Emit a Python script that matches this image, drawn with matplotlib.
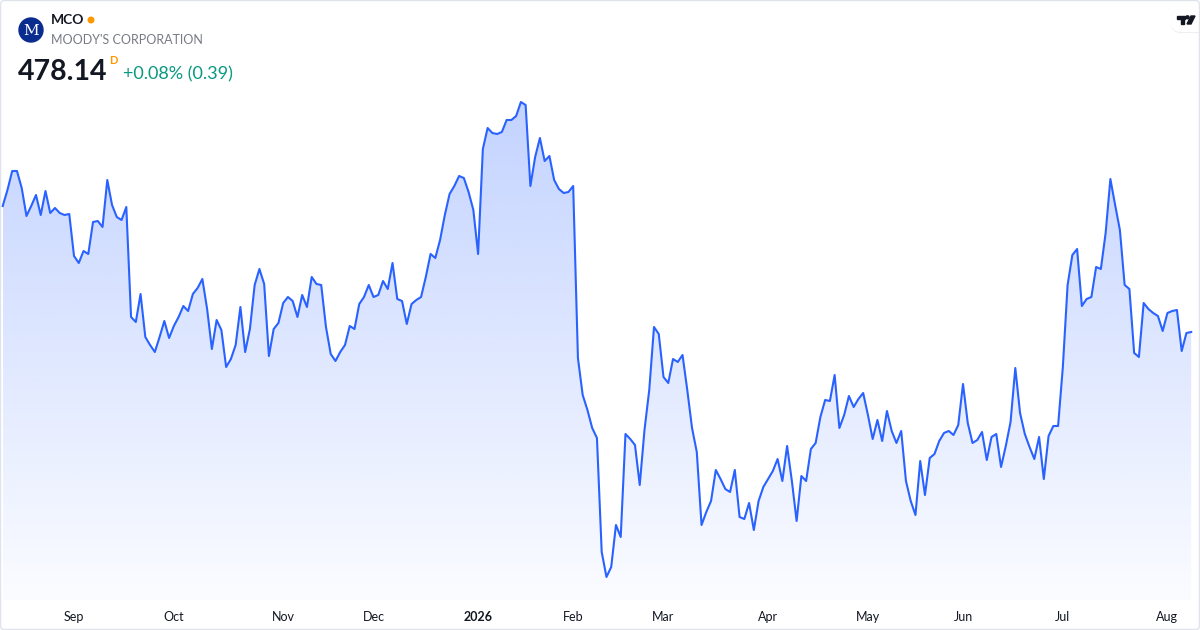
import numpy as np
import pandas as pd
import matplotlib
matplotlib.use("Agg")
import matplotlib.pyplot as plt
from matplotlib.patches import FancyBboxPatch, Circle, Polygon

# daily closes, MCO (Aug 11 2025 onward, trading days)
prices = [
    509.64, 513.64, 518.39, 518.39, 514.14, 507.14, 509.64, 512.39, 507.39, 513.39,
    507.89, 509.14, 507.89, 507.39, 507.64, 497.14, 495.39, 498.39, 497.64, 505.64,
    505.89, 504.39, 516.14, 509.89, 506.89, 506.14, 509.39, 481.89, 480.64, 487.64,
    476.89, 474.89, 473.14, 476.89, 480.89, 476.64, 479.64, 481.89, 484.64, 483.39,
    487.64, 489.14, 491.39, 483.89, 473.89, 481.14, 478.64, 469.39, 471.39, 474.89,
    484.39, 473.14, 478.89, 489.89, 493.89, 490.14, 472.14, 478.89, 480.39, 485.39,
    486.89, 485.89, 481.89, 487.39, 484.39, 491.89, 490.14, 489.89, 479.39, 472.64,
    470.89, 473.14, 474.89, 479.64, 478.89, 485.14, 486.89, 489.89, 486.89, 487.39,
    490.89, 488.89, 495.39, 486.39, 485.89, 480.14, 485.14, 486.14, 486.89, 491.89,
    497.64, 496.64, 501.14, 507.39, 512.64, 514.64, 517.14, 516.64, 513.14, 508.64,
    497.64, 523.89, 529.14, 527.89, 527.64, 528.14, 531.14, 531.14, 532.14, 535.64,
    534.89, 514.64, 521.89, 526.64, 520.89, 522.14, 516.14, 513.89, 512.89, 513.14,
    514.64, 471.64, 462.39, 458.64, 454.14, 451.64, 423.14, 416.89, 419.39, 429.89,
    426.89, 452.64, 451.39, 449.89, 439.89, 453.64, 463.64, 479.39, 477.64, 466.89,
    465.39, 471.39, 470.64, 472.39, 463.64, 454.14, 448.14, 429.89, 433.14, 435.89,
    443.64, 441.39, 438.89, 438.14, 443.64, 431.89, 431.39, 435.39, 428.64, 435.89,
    439.39, 441.39, 443.39, 446.39, 440.89, 449.64, 440.89, 430.89, 442.14, 440.89,
    448.89, 450.39, 456.89, 461.14, 460.89, 467.39, 454.14, 457.39, 462.14, 459.39,
    461.39, 462.89, 457.39, 451.39, 456.14, 450.89, 458.39, 453.39, 450.39, 453.39,
    440.89, 435.89, 432.39, 445.89, 437.39, 446.64, 447.64, 450.89, 452.89, 453.39,
    452.39, 454.89, 465.14, 455.39, 450.39, 451.14, 453.14, 446.14, 451.89, 452.64,
    444.39, 449.64, 455.64, 469.14, 457.89, 452.64, 449.39, 446.39, 451.89, 441.39,
    452.14, 454.64, 454.64, 469.39, 489.89, 497.39, 498.89, 484.64, 486.39, 486.89,
    494.39, 493.89, 502.89, 516.39, 509.89, 503.64, 489.89, 488.89, 472.89, 471.89,
    485.39, 483.89, 482.89, 482.14, 478.39, 482.89, 483.39, 483.64, 473.39, 477.89,
    478.14,
]

holidays = ["2025-09-01", "2025-11-27", "2025-12-25", "2026-01-01", "2026-01-19",
            "2026-02-16", "2026-04-03", "2026-05-25", "2026-06-19", "2026-07-03"]

days = pd.bdate_range("2025-08-11", "2026-09-30")
days = days[~days.isin(pd.to_datetime(holidays))][:len(prices)]
x = np.arange(len(prices))

# first trading day of each month -> tick
tick_idx = [i for i in range(1, len(days)) if days[i].month != days[i - 1].month]
tick_lab = [("%d" % days[i].year) if days[i].month == 1 else days[i].strftime("%b") for i in tick_idx]

W, H = 1200, 630
blue = "#2962ff"
font = ["Lato", "DejaVu Sans"]
fig = plt.figure(figsize=(W / 100, H / 100), dpi=100)
fig.patch.set_facecolor("white")
T = fig.dpi_scale_trans

def px(xp, yp):
    # pixel position (top-left origin) -> inches
    return (xp / 100, (H - yp) / 100)

ax = fig.add_axes([0, 30 / H, 1, 600 / H])
ax.set_facecolor("white")
pitch = 4.754
ymin, ymax = 411.14, 561.14

# gradient fill under the line
grad = np.zeros((256, 1, 4))
grad[:, 0, :3] = matplotlib.colors.to_rgb(blue)
grad[:, 0, 3] = np.linspace(0.02, 0.28, 256)
poly = ax.fill_between(x, prices, ymin, color="none", lw=0)
im = ax.imshow(grad, extent=[x[0], x[-1], ymin, max(prices)], origin="lower",
               aspect="auto", zorder=1)
im.set_clip_path(poly.get_paths()[0], transform=ax.transData)

ax.plot(x, prices, color=blue, lw=1.5, zorder=3, solid_joinstyle="round")
ax.set_xlim(-2.7 / pitch, (W - 2.7) / pitch)
ax.set_ylim(ymin, ymax)

ax.set_xticks(tick_idx)
ax.set_xticklabels(tick_lab, fontsize=9, color="#131722", family=font)
for lab in ax.get_xticklabels():
    if lab.get_text().isdigit():
        lab.set_fontweight("bold")
ax.tick_params(axis="x", length=0, pad=8)
ax.set_yticks([])
for s in ax.spines.values():
    s.set_visible(False)

# header
fig.patches.append(Circle(px(31, 30), 0.12, transform=T, color="#0b2c8f", zorder=5))
fig.text(*px(31, 31), "M", color="white", fontsize=11, family="DejaVu Serif",
         ha="center", va="center", transform=T, zorder=6)
fig.text(*px(51, 20), "MCO", fontsize=10, fontweight="bold", color="#131722",
         family=font, va="center", transform=T)
fig.patches.append(Circle(px(91, 20), 0.028, transform=T, color="#ff9800", zorder=5))
fig.text(*px(51, 40), "MOODY'S CORPORATION", fontsize=9, color="#787b86",
         family=font, va="center", transform=T)
fig.text(*px(18, 72), "478.14", fontsize=20.5, fontweight="bold", color="#131722",
         family=font, va="center", transform=T)
fig.text(*px(109, 61), "D", fontsize=8, fontweight="bold", color="#ff9800",
         family=font, va="center", transform=T)
fig.text(*px(123, 74), "+0.08% (0.39)", fontsize=13, color="#089981",
         family=font, va="center", transform=T)

# TradingView badge
fig.patches.append(FancyBboxPatch(px(1171, 33), 0.40, 0.24,
                                  boxstyle="round,pad=0,rounding_size=0.1",
                                  transform=T, fc="#eceef2", ec="none", zorder=4))
fig.patches.append(FancyBboxPatch(px(1171, 32), 0.40, 0.23,
                                  boxstyle="round,pad=0,rounding_size=0.1",
                                  transform=T, fc="white", ec="none", zorder=5))
for pts in ([(1177, 16), (1185, 16), (1185, 18.5), (1177, 18.5)],
            [(1181, 18), (1184, 18), (1184, 24), (1181, 24)],
            [(1191, 16), (1195, 16), (1191, 24), (1187, 24)]):
    fig.patches.append(Polygon([px(a, b) for a, b in pts], closed=True,
                               transform=T, color="#131722", zorder=6))
fig.patches.append(Circle(px(1187.5, 17.3), 0.015, transform=T, color="#131722", zorder=6))

# outer frame
fig.patches.append(FancyBboxPatch((0.005, 0.005), (W - 1) / 100, (H - 1) / 100,
                                  boxstyle="round,pad=0,rounding_size=0.04",
                                  transform=T, fill=False, ec="#e0e3eb", lw=1, zorder=10))

fig.savefig("out.png", dpi=100)
